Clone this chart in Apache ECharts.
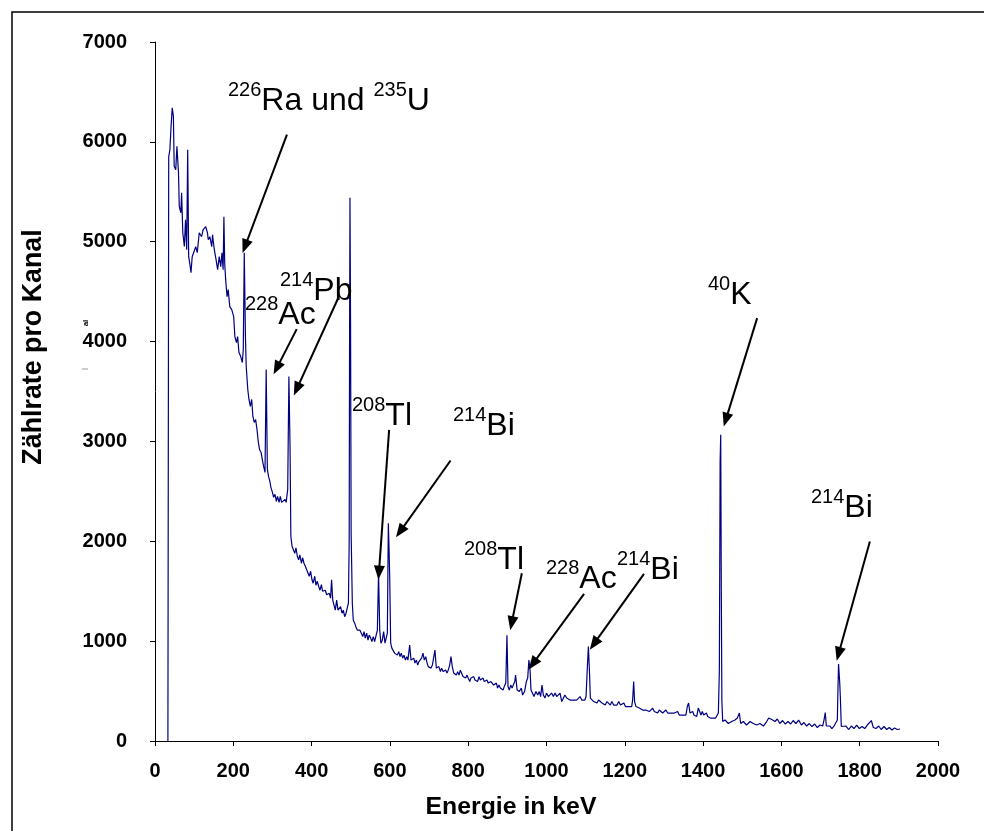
<!DOCTYPE html>
<html><head><meta charset="utf-8">
<script src="https://cdn.jsdelivr.net/npm/echarts@6/dist/echarts.min.js"></script>
<style>html,body{margin:0;padding:0;background:#fff}#c{width:984px;height:831px}</style>
</head><body><div id="c"></div>
<script>
// ---- data (Energie in keV, Zählrate pro Kanal) ----
const energy = [33,35,38,41,44,47,49,53,56,60,62,66,68,71,75,78,81,83.5,86,88.5,92,95,100,104,108,113,119,123,129.5,134,136,140,145,147,151.5,156,160,164,168,171,174,176,178,180.5,184,187,191,196,201,204,208,211,214.5,219,223,225.5,228,231,233,237,240,243.5,247,250,253.5,257,260.5,264,267,271,274,277.5,281,284,287,290,294,296,300,303,306.5,310,313,317,320,323.5,328.5,332,335,339,342,345,347,350,353,357,360,363.5,367,370,374,377,380.5,384,387.5,391,394,397.5,401,404,408,411,414.5,418,421.5,425,428,431.7,435,438.5,442,445,448.5,451,454,457,460.5,464,467.5,471,474,477.7,481,484.5,488,491,494,496,497,498,499.5,501,504,506.5,510,513,517,520,523.6,527,530.5,534,537,540.7,544,547,551,554,557.6,561,564.5,568,571,574,577,580.6,584,587.5,591,593.5,596,598,599.5,602,605,608.6,612,615.6,619,622.5,626,629,632.7,636,639.5,643,646,650.5,654,657,661,664,667.6,671,674,678,681,684.5,688,691.5,695,698,701.7,705,708.5,712,715,718.6,722,725,729,732,735.6,739,742.5,746,749,752.7,756,759.4,763,766,769.6,773,776.5,780,783,786.7,790,793.6,797,800,804,807,810.5,814,817.4,820.7,824,827.6,831,834.5,838,841,844.7,848,851,855,858,861.6,865,868.5,872,875,878.7,882,885.6,889,892,896,899,901.7,905,908.5,912,915,919,921,925,930.6,935.6,939,944,948.5,952,955,958,960.4,964,968,973,977.5,981.6,985,988.5,992,996,1000,1004.6,1009,1013,1017.6,1022,1026,1030.5,1034.5,1039,1043,1047,1051.6,1055.7,1060,1064,1068.5,1073,1077,1081.5,1085.6,1090,1094,1098,1101,1104,1107,1109.6,1112,1116,1120.5,1124.6,1129,1133,1137.6,1141.8,1146,1150,1154.5,1159,1163,1167,1171.6,1175.8,1180,1184.5,1189,1193,1197.6,1201.6,1205.6,1210,1214.4,1217.6,1220,1222.7,1225,1228.6,1233,1237,1241.4,1245.7,1250,1254,1258.5,1262.6,1267,1271,1275.4,1279.7,1284,1288,1292.5,1296.8,1301,1305,1309.6,1313.7,1318,1322.3,1326.4,1330.8,1335,1339,1343.6,1348,1352,1356,1359.7,1363,1366.5,1370,1373.4,1376.6,1380,1383.6,1387.7,1391,1394.6,1398,1401.5,1405,1408.5,1411.7,1415,1418.5,1422,1425.3,1428.6,1432,1435.5,1439,1441.5,1443.5,1445,1446.5,1448,1450,1456,1464.5,1473,1481.5,1487.5,1492.6,1496,1502.7,1511,1520,1528,1537,1545.3,1554,1562.5,1567.6,1572.6,1577.7,1583.6,1589.6,1596,1603,1610,1617,1623.7,1630,1637,1644,1651,1657.7,1664.6,1671.3,1678,1685,1691.7,1698.6,1705.4,1708.8,1712,1714.8,1719,1724,1729,1734.4,1739.5,1742.9,1744.6,1746,1749,1750.5,1753,1758,1765,1772,1778.6,1785.4,1792.3,1799,1806,1812.8,1819.5,1824.6,1829.7,1834.8,1841.6,1848.5,1855,1862,1869,1875.6,1882.5,1889,1896,1903];
const counts = [0,5850,5920,6150,6340,6255,5755,5720,5955,5690,5354,5290,5490,5090,4953,5220,4920,5920,4850,4790,4690,4850,4840,4950,4890,5090,5050,5120,5150,5090,5020,5050,4950,5070,4920,4820,4720,4850,4750,4890,4720,5250,4790,4620,4450,4520,4350,4320,4250,4050,3990,4050,3890,3850,3790,3920,4890,4050,3750,3520,3420,3350,3420,3250,3190,3220,3120,2990,2920,2890,2820,2750,2690,3720,2720,2650,2590,2540,2490,2440,2470,2400,2450,2390,2450,2390,2370,2420,2390,2520,3650,2920,2050,1950,1965,1880,1935,1850,1815,1865,1780,1835,1780,1750,1765,1680,1650,1700,1615,1580,1650,1560,1600,1550,1510,1565,1500,1480,1510,1465,1445,1480,1430,1615,1410,1395,1310,1410,1310,1295,1345,1280,1310,1245,1280,1260,1380,2000,4000,5440,4200,2080,1380,1210,1180,1145,1110,1095,1110,1080,1045,1095,1030,1080,1010,1060,1030,995,1045,995,1010,1110,1680,1110,980,1010,1095,980,995,1080,2180,1900,1645,980,930,945,880,895,860,895,845,880,830,860,810,845,810,960,810,795,830,780,810,760,795,780,830,880,810,845,780,745,760,730,760,745,910,730,710,745,695,730,695,680,710,680,710,760,845,745,680,695,660,695,660,710,680,645,660,630,660,630,595,630,610,645,610,630,595,645,610,595,630,595,580,610,580,560,595,580,560,545,580,530,560,530,545,510,545,580,1060,545,510,560,530,510,595,660,510,495,530,460,495,595,630,810,710,510,480,445,495,460,495,445,560,460,430,480,445,460,480,445,480,445,460,480,395,410,460,430,445,410,430,410,430,410,430,445,410,430,410,445,710,945,710,430,410,395,410,380,410,395,380,395,360,395,380,360,395,360,380,360,395,360,345,380,345,360,345,360,345,410,595,395,345,345,330,345,310,330,310,330,295,310,330,295,310,280,310,295,280,295,310,280,295,280,295,280,260,295,260,280,260,280,260,345,380,280,260,295,260,280,245,330,345,260,295,260,245,280,245,260,230,245,230,245,230,245,280,700,2800,3066,1500,400,195,210,175,195,210,230,280,175,195,160,195,175,160,175,150,195,230,245,210,195,220,175,205,170,195,170,205,175,210,160,185,150,175,145,170,135,160,150,210,285,150,135,150,125,150,135,210,545,770,580,445,145,125,150,115,150,125,160,125,145,125,160,170,205,135,125,150,115,145,115,135,110,130,115,120];
const xTickValues = [0,200,400,600,800,1000,1200,1400,1600,1800,2000];
const yTickValues = [0,1000,2000,3000,4000,5000,6000,7000];

// ---- annotations: arrows in data units [E1,V1,E2,V2] (tail -> head) ----
const arrows = [
  [337,6072,230,4953],
  [362,4125,311,3734],
  [468,4436,362,3524],
  [598,3116,572,1686],
  [755,2809,626,2097],
  [937,1680,911,1179],
  [1096,1473,965,772],
  [1249,1673,1121,972],
  [1538,4235,1458,3216],
  [1826,1997,1746,872]
];
// label parts: [text, isSuperscript]
const labelParts = [
  [['226',1],['Ra und ',0],['235',1],['U',0]],
  [['228',1],['Ac',0]],
  [['214',1],['Pb',0]],
  [['208',1],['Tl',0]],
  [['214',1],['Bi',0]],
  [['208',1],['Tl',0]],
  [['228',1],['Ac',0]],
  [['214',1],['Bi',0]],
  [['40',1],['K',0]],
  [['214',1],['Bi',0]]
];
// label anchor: left x, baseline y of main text (pixels)
const labelAnchor = [[228,112],[245,326],[280,302],[352,427],[453,437],[464,571],[546,590],[617,581],[708,306],[811,519]];

const FONT = '"Liberation Sans", Arial, Helvetica, sans-serif';
const MAIN = 32, SUP = 20, SUPRAISE = 14.5;
const ctx = document.createElement('canvas').getContext('2d');
function w(t, s){ ctx.font = s + 'px ' + FONT; return ctx.measureText(t).width; }
const graphics = [];
graphics.push({type:'rect', silent:true, z:0, shape:{x:12,y:12,width:1100,height:1000}, style:{fill:'none', stroke:'#000', lineWidth:1.5}});
labelParts.forEach((parts, i) => {
  let x = labelAnchor[i][0];
  const base = labelAnchor[i][1];
  parts.forEach(([t, sup]) => {
    const s = sup ? SUP : MAIN;
    const b = sup ? base - SUPRAISE : base;
    graphics.push({type:'text', silent:true, z:10, x:x, y:b - 0.35*s,
      style:{text:t, fill:'#000', font: s + 'px ' + FONT, align:'left', verticalAlign:'middle'}});
    x += w(t, s);
  });
});
graphics.push({type:'text', silent:true, x:34, y:347, rotation:Math.PI/2,
  style:{text:'Zählrate pro Kanal', fill:'#000', font:'bold 26.8px ' + FONT, align:'center', verticalAlign:'middle'}});
graphics.push({type:'text', silent:true, x:511, y:807, 
  style:{text:'Energie in keV', fill:'#000', font:'bold 24.8px ' + FONT, align:'center', verticalAlign:'middle'}});
graphics.push({type:'text', silent:true, x:86, y:323, rotation:Math.PI/2,
  style:{text:'al', fill:'#000', font:'bold 8px ' + FONT, align:'center', verticalAlign:'middle'}});
graphics.push({type:'line', silent:true, shape:{x1:82,y1:369,x2:88,y2:369}, style:{stroke:'#999', lineWidth:1}});

const chart = echarts.init(document.getElementById('c'), null, {renderer:'canvas'});
chart.setOption({
  animation:false,
  backgroundColor:'#fff',
  grid:{left:155, right:46, top:42, bottom:90, containLabel:false, outerBoundsMode:'none'},
  xAxis:{type:'value', min:0, max:2000, interval:200, splitLine:{show:false},
    axisLine:{show:true, onZero:false, lineStyle:{color:'#000', width:1}},
    axisTick:{show:true, length:5, lineStyle:{color:'#000'}},
    axisLabel:{margin:20, color:'#000', fontWeight:'bold', fontSize:20, fontFamily:FONT,
      formatter: v => String(v)}
  },
  yAxis:{type:'value', min:0, max:7000, interval:1000, splitLine:{show:false},
    axisLine:{show:true, lineStyle:{color:'#000', width:1}},
    axisTick:{show:true, length:5, lineStyle:{color:'#000'}},
    axisLabel:{margin:28, color:'#000', fontWeight:'bold', fontSize:20, fontFamily:FONT,
      formatter: v => String(v)}
  },
  series:[{
    type:'line', data: energy.map((e,i)=>[e, counts[i]]),
    showSymbol:false, symbol:'none', smooth:false,
    lineStyle:{color:'#000080', width:1.2}, itemStyle:{color:'#000080'},
    markLine:{silent:true, animation:false, symbol:['none','triangle'], symbolSize:[11,14],
      lineStyle:{color:'#000', width:2, type:'solid'}, label:{show:false},
      emphasis:{disabled:true},
      data: arrows.map(a => [{coord:[a[0],a[1]]},{coord:[a[2],a[3]]}])}
  }],
  graphic: graphics
});
</script></body></html>
